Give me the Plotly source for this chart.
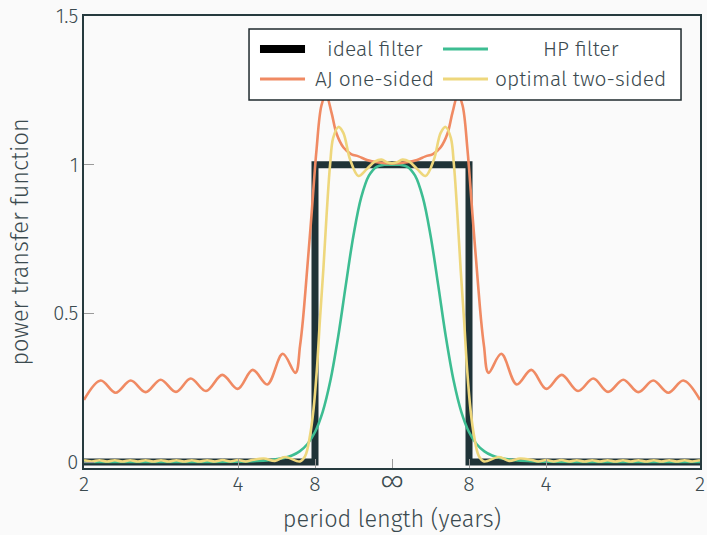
import plotly.graph_objects as go

# ---------------- data (frequency in units of pi) ----------------
tick_vals = [-1, -0.5, -0.25, 0, 0.25, 0.5, 1]
tick_text = ["2", "4", "8", "<span style='font-size:27px'>∞</span>", "8", "4", "2"]
y_tick_vals = [0, 0.5, 1, 1.5]
y_tick_text = ["0", "0.5", "1", "1.5"]

ideal_freq = [-1.0, -0.25, -0.25, 0.25, 0.25, 1.0]
ideal_power = [0.0, 0.0, 1.0, 1.0, 0.0, 0.0]

hp_freq = [-1.0, -0.8, -0.6, -0.5, -0.45, -0.4, -0.35, -0.325, -0.3, -0.275, -0.25,
           -0.225, -0.2, -0.175, -0.15, -0.125, -0.1, -0.075, -0.05, -0.025, 0.0,
           0.025, 0.05, 0.075, 0.1, 0.125, 0.15, 0.175, 0.2, 0.225, 0.25, 0.275,
           0.3, 0.325, 0.35, 0.4, 0.45, 0.5, 0.6, 0.8, 1.0]
hp_power = [0.0001, 0.0002, 0.0005, 0.0015, 0.003, 0.006, 0.014, 0.022, 0.036, 0.060, 0.101,
            0.169, 0.274, 0.420, 0.595, 0.763, 0.890, 0.963, 0.993, 0.9995, 1.0,
            0.9995, 0.993, 0.963, 0.890, 0.763, 0.595, 0.420, 0.274, 0.169, 0.101, 0.060,
            0.036, 0.022, 0.014, 0.006, 0.003, 0.0015, 0.0005, 0.0002, 0.0001]

aj_freq = [-1.0, -0.9458, -0.8971, -0.8484, -0.7997, -0.751, -0.7013, -0.6536, -0.6039,
           -0.551, -0.501, -0.4523, -0.4049, -0.3549, -0.3133, -0.2987, -0.289, -0.2776,
           -0.2614, -0.2451, -0.2289, -0.2143, -0.1964, -0.1802, -0.1575, -0.1315,
           -0.1088, -0.0812, -0.0487, 0.0,
           0.0487, 0.0812, 0.1088, 0.1315, 0.1575, 0.1802, 0.1964, 0.2143, 0.2289,
           0.2451, 0.2614, 0.2776, 0.289, 0.2987, 0.3133, 0.3549, 0.4049, 0.4523,
           0.501, 0.551, 0.6039, 0.6536, 0.7013, 0.751, 0.7997, 0.8484, 0.8971,
           0.9458, 1.0]
aj_power = [0.209, 0.274, 0.233, 0.274, 0.235, 0.277, 0.236, 0.281, 0.239,
            0.293, 0.246, 0.310, 0.261, 0.364, 0.300, 0.390, 0.480, 0.620,
            0.830, 1.050, 1.200, 1.235, 1.175, 1.105, 1.058, 1.035,
            1.028, 1.016, 1.008, 1.004,
            1.008, 1.016, 1.028, 1.035, 1.058, 1.105, 1.175, 1.235, 1.200,
            1.050, 0.830, 0.620, 0.480, 0.390, 0.300, 0.364, 0.261, 0.310,
            0.246, 0.293, 0.239, 0.281, 0.236, 0.277, 0.235, 0.274, 0.233,
            0.274, 0.209]

opt_freq = [-1.0, -0.975, -0.95, -0.925, -0.9, -0.875, -0.85, -0.825, -0.8, -0.775,
            -0.75, -0.725, -0.7, -0.675, -0.65, -0.625, -0.6, -0.575, -0.55, -0.525,
            -0.5, -0.475, -0.45, -0.416, -0.38, -0.347, -0.299, -0.282, -0.266,
            -0.255, -0.244, -0.234, -0.223, -0.212, -0.201, -0.191, -0.174, -0.158,
            -0.136, -0.109, -0.082, -0.055, -0.034, -0.016, 0.0,
            0.016, 0.034, 0.055, 0.082, 0.109, 0.136, 0.158, 0.174, 0.191, 0.201,
            0.212, 0.223, 0.234, 0.244, 0.255, 0.266, 0.282, 0.299, 0.347, 0.38,
            0.416, 0.45, 0.475, 0.5, 0.525, 0.55, 0.575, 0.6, 0.625, 0.65, 0.675,
            0.7, 0.725, 0.75, 0.775, 0.8, 0.825, 0.85, 0.875, 0.9, 0.925, 0.95,
            0.975, 1.0]
opt_power = [0.006, 0.002, 0.006, 0.002, 0.006, 0.002, 0.006, 0.002, 0.006, 0.002,
             0.006, 0.002, 0.006, 0.002, 0.006, 0.002, 0.006, 0.002, 0.007, 0.002,
             0.007, 0.002, 0.008, 0.012, 0.004, 0.017, 0.002, 0.020, 0.090,
             0.175, 0.310, 0.478, 0.646, 0.837, 1.000, 1.090, 1.127, 1.107,
             1.017, 0.962, 0.985, 1.011, 1.017, 1.008, 1.005,
             1.008, 1.017, 1.011, 0.985, 0.962, 1.017, 1.107, 1.127, 1.090, 1.000,
             0.837, 0.646, 0.478, 0.310, 0.175, 0.090, 0.020, 0.002, 0.017, 0.004,
             0.012, 0.008, 0.002, 0.007, 0.002, 0.007, 0.002, 0.006, 0.002, 0.006, 0.002,
             0.006, 0.002, 0.006, 0.002, 0.006, 0.002, 0.006, 0.002, 0.006, 0.002, 0.006,
             0.002, 0.006]

series_names = ["ideal filter", "HP filter", "AJ one-sided", "optimal two-sided"]
series_colors = ["#1f3337", "#3dbd92", "#f08a63", "#eed77c"]

# ---------------- figure ----------------
FONT = "Fira Sans, Open Sans, Noto Sans, sans-serif"
TEXT = "#3b4a4f"
BG = "#fafafa"

fig = go.Figure()
fig.add_trace(go.Scatter(x=ideal_freq, y=ideal_power, mode="lines", name=series_names[0],
                         line=dict(color=series_colors[0], width=7), showlegend=False))
fig.add_trace(go.Scatter(x=hp_freq, y=hp_power, mode="lines", name=series_names[1],
                         line=dict(color=series_colors[1], width=2.6, shape="spline"),
                         showlegend=False))
fig.add_trace(go.Scatter(x=aj_freq, y=aj_power, mode="lines", name=series_names[2],
                         line=dict(color=series_colors[2], width=2.6, shape="spline"),
                         showlegend=False))
fig.add_trace(go.Scatter(x=opt_freq, y=opt_power, mode="lines", name=series_names[3],
                         line=dict(color=series_colors[3], width=2.6, shape="spline"),
                         showlegend=False))

# manual legend (box, samples, labels) in paper coordinates
lx0, lx1, ly0, ly1 = 0.2679, 0.9692, 0.8142, 0.9712
fig.add_shape(type="rect", xref="paper", yref="paper", x0=lx0, x1=lx1, y0=ly0, y1=ly1,
              fillcolor="white", line=dict(color="#1f2a2e", width=1.5), layer="above")
rows = [0.927, 0.927, 0.8606, 0.8606]
samp_x = [(0.2857, 0.3588), (0.5828, 0.6558), (0.2857, 0.3588), (0.5828, 0.6558)]
samp_w = [8, 3, 3, 3]
samp_c = ["#000000", series_colors[1], series_colors[2], series_colors[3]]
text_x = [0.4724, 0.8068, 0.4708, 0.8068]
for i in range(4):
    fig.add_shape(type="line", xref="paper", yref="paper", x0=samp_x[i][0], x1=samp_x[i][1],
                  y0=rows[i], y1=rows[i], line=dict(color=samp_c[i], width=samp_w[i]),
                  layer="above")
    fig.add_annotation(xref="paper", yref="paper", x=text_x[i], y=rows[i], text=series_names[i],
                       showarrow=False, xanchor="center", yanchor="middle",
                       font=dict(family=FONT, size=21, color=TEXT, weight=300))

fig.update_layout(
    width=707, height=535,
    margin=dict(l=84, r=7, t=16, b=67, autoexpand=False),
    paper_bgcolor=BG, plot_bgcolor=BG,
    font=dict(family=FONT, size=20, color=TEXT, weight=300),
    showlegend=False,
)
fig.update_xaxes(
    range=[-1, 1], tickmode="array", tickvals=tick_vals, ticktext=tick_text,
    ticks="inside", ticklen=9, tickcolor="#9a9a9a", tickwidth=1,
    showline=True, linecolor="#263a3e", linewidth=1.5, mirror=True,
    showgrid=False, zeroline=False, automargin=False, ticklabelstandoff=-4,
    tickfont=dict(family=FONT, size=21, color=TEXT, weight=300),
    title=dict(text="period length (years)", standoff=14,
               font=dict(family=FONT, size=23.5, color=TEXT, weight=300)),
)
fig.update_yaxes(
    range=[-0.02, 1.5], tickmode="array", tickvals=y_tick_vals, ticktext=y_tick_text,
    ticks="inside", ticklen=10, tickcolor="#9a9a9a", tickwidth=1,
    showline=True, linecolor="#263a3e", linewidth=1.5, mirror=True,
    showgrid=False, zeroline=False, automargin=False,
    tickfont=dict(family=FONT, size=20, color=TEXT, weight=300),
    title=dict(text="power transfer function", standoff=18,
               font=dict(family=FONT, size=23.5, color=TEXT, weight=300)),
)

fig.write_html("out.html", config={"displayModeBar": False},
               post_script="document.body.style.margin='0';")
